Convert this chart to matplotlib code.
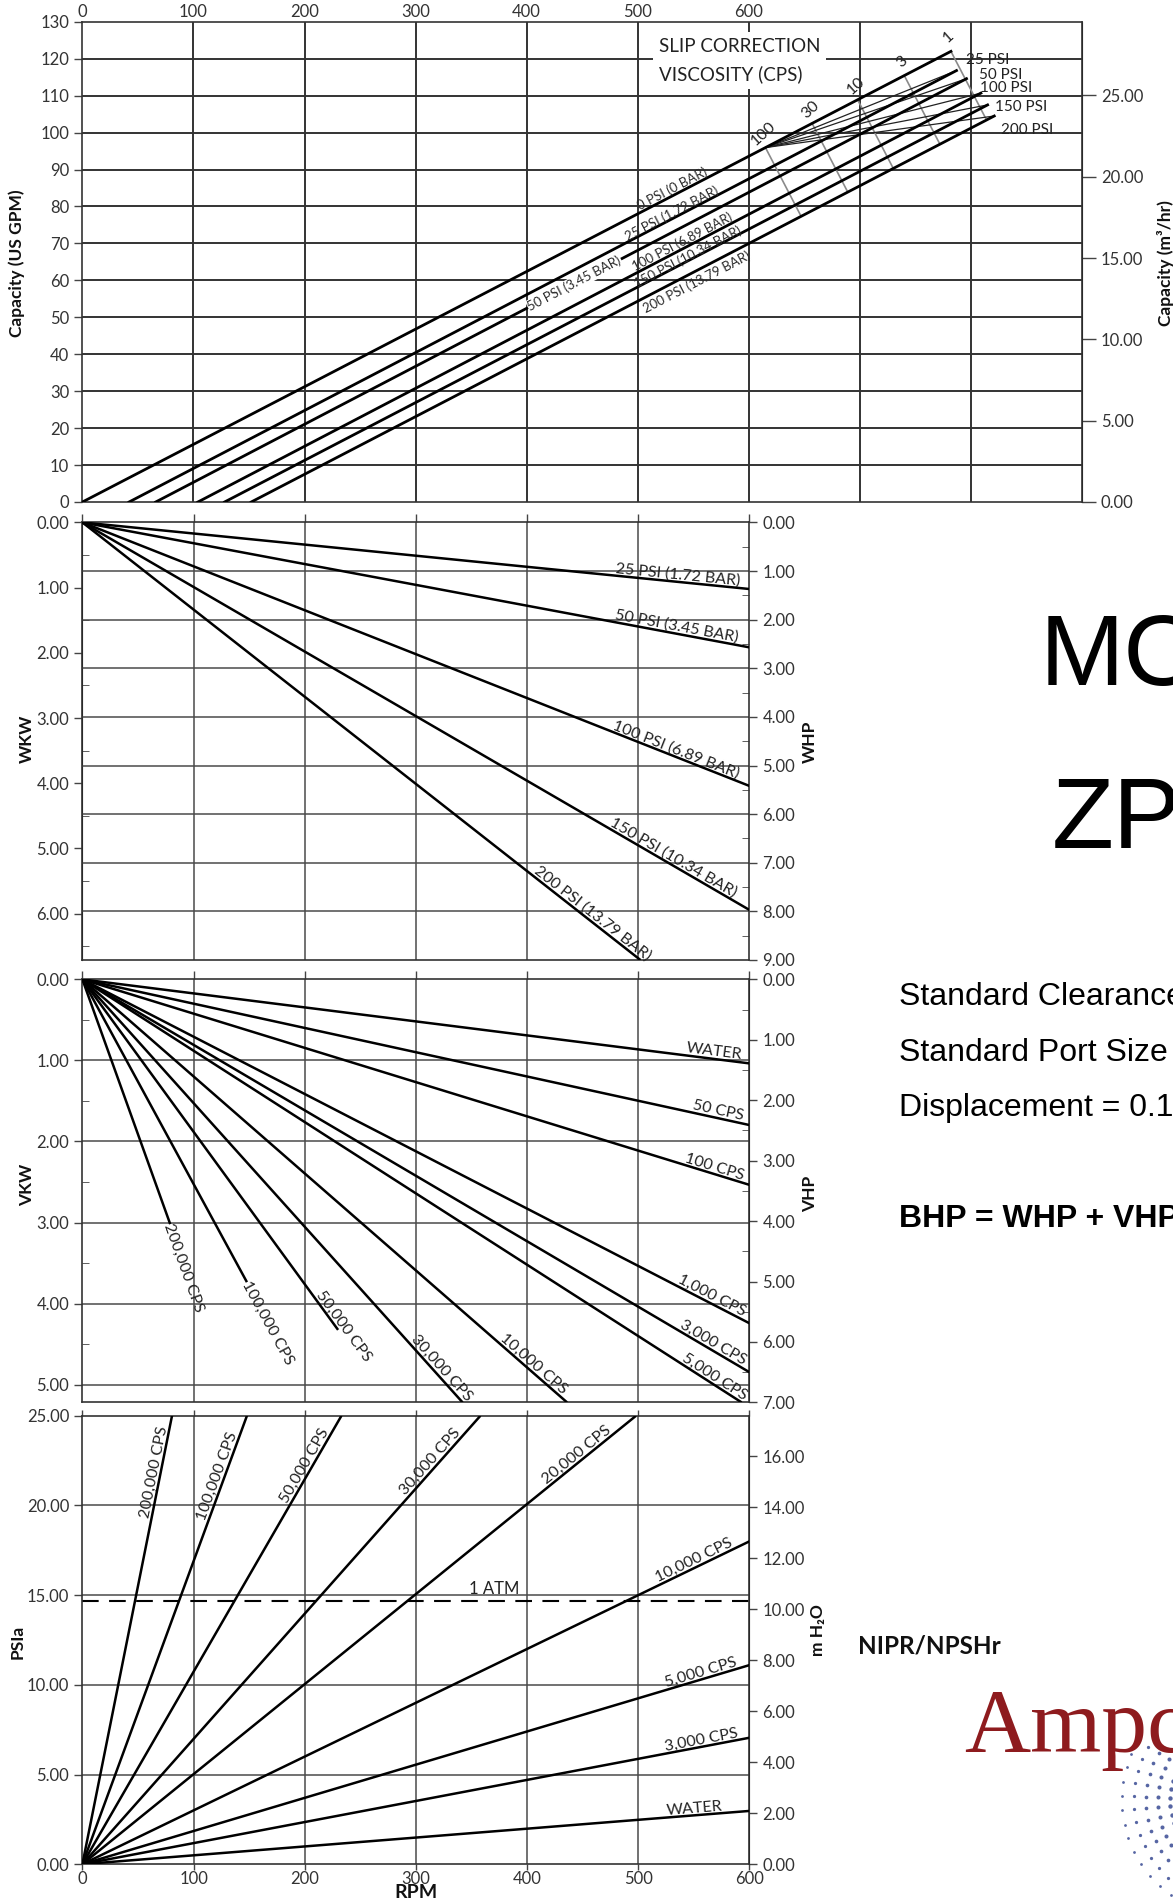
import numpy as np
import matplotlib
matplotlib.use("Agg")
import matplotlib.pyplot as plt
from matplotlib.ticker import MultipleLocator, FormatStrFormatter

plt.rcParams['font.family'] = ['Lato', 'DejaVu Sans']

W, H = 1173, 1900
GPM_PER_M3H = 4.403
KW_PER_HP = 0.7457
M_PER_PSI = 0.70307
ATM_PSI = 14.7

# ---------------- data ----------------
rpm_ticks = [0, 100, 200, 300, 400, 500, 600]
top_grid_rpm = [100, 200, 300, 400, 500, 600, 700, 800]
low_grid_rpm = [100, 200, 300, 400, 500]
gpm_ticks = list(range(0, 140, 10))
m3h_ticks = [0, 5, 10, 15, 20, 25]
whp_ticks = list(range(0, 10))
wkw_ticks = list(range(0, 7))
vkw_ticks = list(range(0, 6))
vhp_ticks = list(range(0, 8))
psia_ticks = [0, 5, 10, 15, 20, 25]
mh2o_ticks = [0, 2, 4, 6, 8, 10, 12, 14, 16]

# capacity vs rpm for each differential pressure
cap_labels = ["0 PSI (0 BAR)", "25 PSI (1.72 BAR)", "50 PSI (3.45 BAR)",
              "100 PSI (6.89 BAR)", "150 PSI (10.34 BAR)", "200 PSI (13.79 BAR)"]
cap_start_rpm = [0, 42, 66, 104, 128, 152]
cap_end_rpm = [782, 787, 796, 809, 815, 821]
cap_end_gpm = [122.0, 116.8, 114.6, 110.7, 107.5, 104.5]
cap_label_rpm = [531, 531, 443, 540, 545, 553]
cap_label_gpm = [84.9, 78.2, 59.2, 70.5, 66.4, 59.5]

# slip correction nomogram
slip_psi = ["25 PSI", "50 PSI", "100 PSI", "150 PSI", "200 PSI"]
slip_psi_dx = [10, 13, -1, 7, 7]      # label offset from line end, pixels
slip_psi_dy = [11, 4, 5, -2, -14]
slip_visc = ["100", "30", "10", "3", "1"]
slip_visc_rpm = [615, 657, 698, 740, 782]

# water horsepower
whp_labels = ["25 PSI (1.72 BAR)", "50 PSI (3.45 BAR)", "100 PSI (6.89 BAR)",
              "150 PSI (10.34 BAR)", "200 PSI (13.79 BAR)"]
whp_end_rpm = [600, 600, 600, 600, 502]
whp_end_val = [1.37, 2.57, 5.42, 7.97, 9.0]
whp_label_rpm = [535, 533, 532, 528, 455]

# viscous horsepower
vhp_labels = ["WATER", "50 CPS", "100 CPS", "1,000 CPS", "3,000 CPS", "5,000 CPS",
              "10,000 CPS", "30,000 CPS", "50,000 CPS", "100,000 CPS", "200,000 CPS"]
vhp_end_rpm = [600, 600, 600, 600, 600, 593, 436, 342, 230, 148, 79]
vhp_end_val = [1.39, 2.41, 3.40, 5.69, 6.50, 7.0, 7.0, 7.0, 5.80, 5.01, 4.05]
vhp_label_rpm = [593, 593, 593, 593, 593, 593, 402, 318, 230, 148, 79]
vhp_label_mode = ["r", "r", "r", "r", "r", "r", "c", "c", "c", "end", "end"]

# NIPR / NPSHr
npsh_labels = ["WATER", "3,000 CPS", "5,000 CPS", "10,000 CPS", "20,000 CPS",
               "30,000 CPS", "50,000 CPS", "100,000 CPS", "200,000 CPS"]
npsh_end_rpm = [600, 600, 600, 600, 498, 358, 233, 148, 80.6]
npsh_end_val = [2.97, 7.05, 11.1, 18.0, 25, 25, 25, 25, 25]
npsh_label_rpm = [551, 558, 558, 553, None, None, None, None, None]
npsh_label_psi = [None, None, None, None, 22.5, 22.2, 22.0, 21.5, 21.8]

# ---------------- figure ----------------
fig = plt.figure(figsize=(W / 100, H / 100), dpi=100)
ov = fig.add_axes([0, 0, 1, 1], zorder=-1)
ov.set_xlim(0, W)
ov.set_ylim(H, 0)
ov.axis('off')

GRID = dict(color='#4a4a4a', lw=1.1, zorder=1)
LINE = dict(color='black', lw=1.8, zorder=3, solid_capstyle='butt')
TICK = dict(colors='#444444', labelcolor='#333333', labelsize=12, length=6, width=1)
f2 = FormatStrFormatter('%.2f')


def add_panel(left, top, right, bottom):
    ax = fig.add_axes([left / W, 1 - bottom / H, (right - left) / W, (bottom - top) / H])
    for s in ax.spines.values():
        s.set_color('#333333')
        s.set_linewidth(1.2)
    return ax


def angle(ax, p0, p1):
    a = ax.transData.transform(p0)
    b = ax.transData.transform(p1)
    return np.degrees(np.arctan2(b[1] - a[1], b[0] - a[0]))


def unit(v):
    return v / np.hypot(*v)


# ---------- panel 1: capacity ----------
ax1 = add_panel(82.4, 21.8, 1082, 502)
ax1.set_xlim(0, 900)
ax1.set_ylim(0, 130)
ax1.xaxis.tick_top()
ax1.set_xticks(rpm_ticks)
ax1.tick_params(axis='x', **{**TICK, 'length': 0, 'pad': 1})
ax1.set_yticks(gpm_ticks)
ax1.tick_params(axis='y', **TICK)
for v in top_grid_rpm:
    ax1.axvline(v, color='#333333', lw=1.4, zorder=1)
for v in gpm_ticks[1:-1]:
    ax1.axhline(v, color='#333333', lw=1.4, zorder=1)
sec1 = ax1.secondary_yaxis('right', functions=(lambda g: g / GPM_PER_M3H, lambda m: m * GPM_PER_M3H))
sec1.set_yticks(m3h_ticks)
sec1.yaxis.set_major_formatter(f2)
sec1.tick_params(**{**TICK, 'length': 10})

for i, lab in enumerate(cap_labels):
    p0 = (cap_start_rpm[i], 0)
    p1 = (cap_end_rpm[i], cap_end_gpm[i])
    ax1.plot([p0[0], p1[0]], [p0[1], p1[1]], color='black', lw=2.0, zorder=3)
    ang = angle(ax1, p0, p1)
    bbox = dict(facecolor='white', edgecolor='none', pad=0.5) if i == 2 else None
    ax1.text(cap_label_rpm[i], cap_label_gpm[i], lab, fontsize=9.5, color='#2a2a2a',
             rotation=ang, rotation_mode='anchor', ha='center', va='center',
             bbox=bbox, zorder=4)

ax1.text(519, 119.5, "SLIP CORRECTION\nVISCOSITY (CPS)", fontsize=13.5, color='#222222',
         ha='left', va='center', linespacing=1.75, zorder=4,
         bbox=dict(facecolor='white', edgecolor='none', pad=4))

# nomogram lines
d0 = ax1.transData.transform((0, 0))
e0 = ax1.transData.transform((cap_end_rpm[0], cap_end_gpm[0]))
u0 = unit(e0 - d0)
n0 = np.array([u0[1], -u0[0]])
s5 = ax1.transData.transform((cap_start_rpm[5], 0))
e5 = ax1.transData.transform((cap_end_rpm[5], cap_end_gpm[5]))
u5 = unit(e5 - s5)
inv = ax1.transData.inverted()
gpm0 = lambda r: cap_end_gpm[0] * r / cap_end_rpm[0]
for r, lab in zip(slip_visc_rpm, slip_visc):
    A = ax1.transData.transform((r, gpm0(r)))
    t, s = np.linalg.solve(np.column_stack([n0, -u5]), s5 - A)
    B = A + t * n0
    a, b = inv.transform(A), inv.transform(B)
    ax1.plot([a[0], b[0]], [a[1], b[1]], color='#8a8a8a', lw=1.2, zorder=2)
    ax1.annotate(lab, (r, gpm0(r)), xytext=(-2, 14), textcoords='offset pixels',
                 fontsize=11.5, rotation=42, ha='center', va='center', color='#222222')

c = (slip_visc_rpm[0], gpm0(slip_visc_rpm[0]))
for i in range(1, 6):
    ax1.plot([c[0], cap_end_rpm[i]], [c[1], cap_end_gpm[i]], color='#222222', lw=0.9, zorder=2)
    ax1.annotate(slip_psi[i - 1], (cap_end_rpm[i], cap_end_gpm[i]),
                 xytext=(slip_psi_dx[i - 1], slip_psi_dy[i - 1]), textcoords='offset pixels',
                 fontsize=11, ha='left', va='center', color='#222222', zorder=5)

# ---------- panel 2: WHP ----------
ax2 = add_panel(82.4, 522.4, 749.4, 960)
ax2.set_xlim(0, 600)
ax2.set_ylim(9, 0)
ax2.set_xticks(rpm_ticks)
ax2.tick_params(axis='x', bottom=False, top=True, labelbottom=False, direction='out', **TICK)
ax2.yaxis.tick_right()
ax2.set_yticks(whp_ticks)
ax2.yaxis.set_major_formatter(f2)
ax2.yaxis.set_minor_locator(MultipleLocator(0.5))
ax2.tick_params(axis='y', which='major', **TICK)
ax2.tick_params(axis='y', which='minor', direction='in', length=5, colors='#444444')
for v in low_grid_rpm:
    ax2.axvline(v, **GRID)
for v in whp_ticks[1:-1]:
    ax2.axhline(v, **GRID)
sec2 = ax2.secondary_yaxis('left', functions=(lambda h: h * KW_PER_HP, lambda k: k / KW_PER_HP))
sec2.set_yticks(wkw_ticks)
sec2.yaxis.set_major_formatter(f2)
sec2.yaxis.set_minor_locator(MultipleLocator(0.5))
sec2.tick_params(which='major', **TICK)
sec2.tick_params(which='minor', direction='in', length=5, colors='#444444')

for i, lab in enumerate(whp_labels):
    ax2.plot([0, whp_end_rpm[i]], [0, whp_end_val[i]], **LINE)
    ang = angle(ax2, (0, 0), (whp_end_rpm[i], whp_end_val[i]))
    x = whp_label_rpm[i]
    y = whp_end_val[i] * x / whp_end_rpm[i]
    ax2.text(x, y, lab, fontsize=11.5, rotation=ang, rotation_mode='anchor',
             ha='center', va='bottom', color='#222222')

# ---------- panel 3: VHP ----------
ax3 = add_panel(82.4, 979.4, 749.4, 1402.4)
ax3.set_xlim(0, 600)
ax3.set_ylim(7 * KW_PER_HP, 0)
ax3.set_xticks(rpm_ticks)
ax3.tick_params(axis='x', bottom=False, top=True, labelbottom=False, direction='out', **TICK)
ax3.set_yticks(vkw_ticks)
ax3.yaxis.set_major_formatter(f2)
ax3.yaxis.set_minor_locator(MultipleLocator(0.5))
ax3.tick_params(axis='y', which='major', **TICK)
ax3.tick_params(axis='y', which='minor', direction='in', length=5, colors='#444444')
for v in low_grid_rpm:
    ax3.axvline(v, **GRID)
for v in vkw_ticks[1:]:
    ax3.axhline(v, **GRID)
sec3 = ax3.secondary_yaxis('right', functions=(lambda k: k / KW_PER_HP, lambda h: h * KW_PER_HP))
sec3.set_yticks(vhp_ticks)
sec3.yaxis.set_major_formatter(f2)
sec3.yaxis.set_minor_locator(MultipleLocator(0.5))
sec3.tick_params(which='major', **TICK)
sec3.tick_params(which='minor', direction='in', length=5, colors='#444444')

for i, lab in enumerate(vhp_labels):
    end = (vhp_end_rpm[i], vhp_end_val[i] * KW_PER_HP)
    ax3.plot([0, end[0]], [0, end[1]], **LINE)
    ang = angle(ax3, (0, 0), end)
    x = vhp_label_rpm[i]
    y = end[1] * x / end[0]
    mode = vhp_label_mode[i]
    if mode == "r":
        ax3.text(x, y, lab, fontsize=11.5, rotation=ang, rotation_mode='anchor',
                 ha='right', va='bottom', color='#222222')
    elif mode == "c":
        ax3.text(x, y, lab, fontsize=11.5, rotation=ang, rotation_mode='anchor',
                 ha='center', va='bottom', color='#222222')
    else:
        ax3.annotate(lab, (x, y), xytext=(-2, 0), textcoords='offset pixels',
                     fontsize=11.5, rotation=ang, rotation_mode='anchor',
                     ha='left', va='center', color='#222222')

# ---------- panel 4: NIPR / NPSHr ----------
ax4 = add_panel(82.4, 1415.8, 749.4, 1864.2)
ax4.set_xlim(0, 600)
ax4.set_ylim(0, 25)
ax4.set_xticks(rpm_ticks)
ax4.tick_params(axis='x', top=True, bottom=True, **{**TICK, 'pad': 1, 'length': 4})
ax4.set_yticks(psia_ticks)
ax4.yaxis.set_major_formatter(f2)
ax4.tick_params(axis='y', **TICK)
for v in low_grid_rpm:
    ax4.axvline(v, **GRID)
for v in psia_ticks[1:-1]:
    ax4.axhline(v, **GRID)
ax4.axhline(ATM_PSI, color='black', lw=1.5, ls=(0, (8, 5)), zorder=2)
ax4.annotate("1 ATM", (370, ATM_PSI), xytext=(0, 4), textcoords='offset pixels',
             fontsize=12, ha='center', va='bottom', color='#222222')
sec4 = ax4.secondary_yaxis('right', functions=(lambda p: p * M_PER_PSI, lambda m: m / M_PER_PSI))
sec4.set_yticks(mh2o_ticks)
sec4.yaxis.set_major_formatter(f2)
sec4.tick_params(**TICK)

for i, lab in enumerate(npsh_labels):
    end = (npsh_end_rpm[i], npsh_end_val[i])
    ax4.plot([0, end[0]], [0, end[1]], **LINE)
    ang = angle(ax4, (0, 0), end)
    if npsh_label_rpm[i] is not None:
        x = npsh_label_rpm[i]
        y = end[1] * x / end[0]
    else:
        y = npsh_label_psi[i]
        x = end[0] * y / end[1]
    ax4.text(x, y, lab, fontsize=11.5, rotation=ang, rotation_mode='anchor',
             ha='center', va='bottom', color='#222222')

# ---------- axis titles ----------
lab_kw = dict(fontsize=12.5, fontweight='bold', ha='center', va='center', color='#111111')
ov.text(17, 263, "Capacity (US GPM)", rotation=90, **lab_kw)
ov.text(1165, 263, "Capacity (m³/hr)", rotation=90, **lab_kw)
ov.text(27, 739, "WKW", rotation=90, **lab_kw)
ov.text(810, 742, "WHP", rotation=90, **lab_kw)
ov.text(27, 1185, "VKW", rotation=90, **lab_kw)
ov.text(810, 1194, "VHP", rotation=90, **lab_kw)
ov.text(18, 1642, "PSIa", rotation=90, **lab_kw)
ov.text(818, 1630, "m H₂O", rotation=90, **lab_kw)
ov.text(416, 1893, "RPM", **{**lab_kw, 'fontsize': 14})

# ---------- side texts ----------
side = dict(family=['Liberation Sans', 'DejaVu Sans'], color='black', ha='left', va='baseline')
ov.text(1040, 685, "MO", fontsize=73, **side)
ov.text(1052, 848, "ZP", fontsize=73, **side)
ov.text(899, 1005, "Standard Clearance", fontsize=23, **side)
ov.text(899, 1061, "Standard Port Size", fontsize=23, **side)
ov.text(899, 1116, "Displacement = 0.1", fontsize=23, **side)
ov.text(899, 1227, "BHP = WHP + VHP", fontsize=23, fontweight='bold', **side)
ov.text(858, 1646, "NIPR/NPSHr", fontsize=17.5, fontweight='bold', ha='left', va='center',
        color='#111111')
ov.text(964, 1752, "Ampco", fontsize=66, family=['Liberation Serif', 'DejaVu Serif'],
        color='#8e1b1e', ha='left', va='baseline')

# halftone dots of the logo
for k, rad in enumerate([70, 82, 94, 106, 118]):
    th = np.radians(np.arange(150, 235, 7))
    ov.scatter(1240 + rad * np.cos(th), 1800 - rad * np.sin(th),
               s=10 - 1.5 * k, color='#2c3f8c', alpha=0.8, linewidths=0)

fig.savefig("out.png", dpi=100)
